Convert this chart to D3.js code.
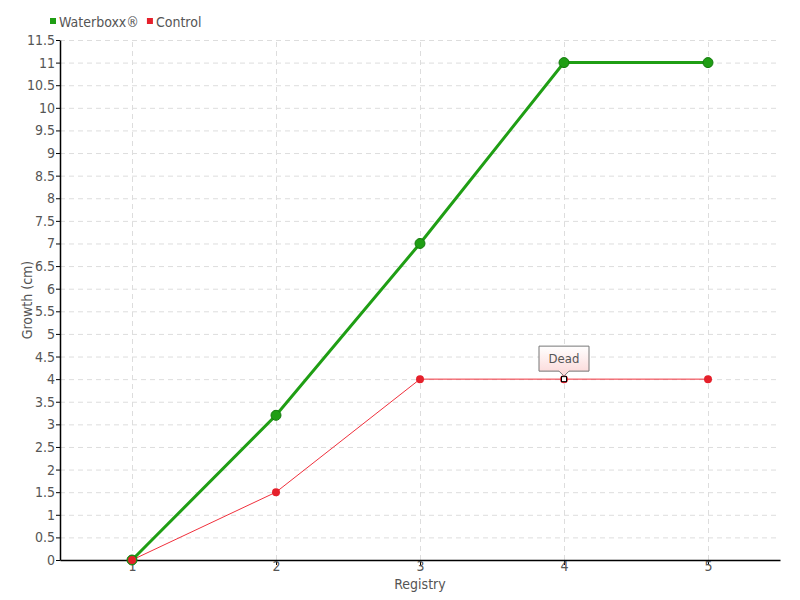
<!DOCTYPE html>
<html>
<head>
<meta charset="utf-8">
<script src="https://cdn.jsdelivr.net/npm/d3@7"></script>
<style>
  body { margin: 0; background: #fff; }
  text { font-family: "DejaVu Sans Condensed", "Liberation Sans Narrow", sans-serif; fill: #555; }
  .grid line { stroke: #ddd; stroke-dasharray: 5,4; }
  .grid path { display: none; }
  .axis path, .axis line { stroke: #000; }
</style>
</head>
<body>
<svg id="chart" width="800" height="600"></svg>
<script>
const registry = [1, 2, 3, 4, 5];
const waterboxx = [0, 3.2, 7, 11, 11];
const control = [0, 1.5, 4, 4, 4];
const yTicks = d3.range(0, 11.51, 0.5);
const deadIndex = 3;

const margin = { top: 40, right: 20, bottom: 40, left: 60 };
const width = 800 - margin.left - margin.right;
const height = 600 - margin.top - margin.bottom;

const svg = d3.select("#chart");
const g = svg.append("g").attr("transform", `translate(${margin.left},${margin.top})`);

const x = d3.scaleLinear().domain([0.5, 5.5]).range([0, width]);
const y = d3.scaleLinear().domain([0, 11.5]).range([height, 0]);

// grid
g.append("g").attr("class", "grid")
  .call(d3.axisLeft(y).tickValues(yTicks).tickSize(-width).tickFormat(""));
g.append("g").attr("class", "grid")
  .attr("transform", `translate(0,${height})`)
  .call(d3.axisBottom(x).tickValues(registry).tickSize(-height).tickFormat(""));

// axes
const yAxis = g.append("g").attr("class", "axis")
  .call(d3.axisLeft(y).tickValues(yTicks).tickSize(4).tickSizeOuter(0)
    .tickFormat(d => d3.format("")(d)));
yAxis.selectAll("text").style("font-size", "14px").attr("x", -5);
yAxis.select("path").attr("stroke-width", 1.5);

const xAxis = g.append("g").attr("class", "axis")
  .attr("transform", `translate(0,${height})`)
  .call(d3.axisBottom(x).tickValues(registry).tickSize(5).tickSizeOuter(0).tickFormat(d3.format("d")));
xAxis.selectAll("line").attr("stroke", "#555");
xAxis.selectAll("text").style("font-size", "14px").attr("y", 1).attr("dy", "0.71em");
xAxis.select("path").attr("stroke-width", 1.5);

// labels
svg.append("text").attr("x", margin.left + x(3)).attr("y", 589)
  .attr("text-anchor", "middle").style("font-size", "14px").text("Registry");
svg.append("text").attr("transform", `translate(32,${margin.top + height / 2}) rotate(-90)`)
  .attr("text-anchor", "middle").style("font-size", "14px").text("Growth (cm)");

const line = d3.line().x((d, i) => x(registry[i])).y(d => y(d));

// control
g.append("path").datum(control).attr("d", line)
  .attr("fill", "none").attr("stroke", "#f0303c").attr("stroke-width", 1);
control.forEach((v, i) => {
  if (i === deadIndex) return;
  g.append("circle")
    .attr("cx", x(registry[i])).attr("cy", y(v)).attr("r", 4).attr("fill", "#e5202b");
});

// waterboxx
g.append("path").datum(waterboxx).attr("d", line)
  .attr("fill", "none").attr("stroke", "#1f9e14").attr("stroke-width", 3);
waterboxx.forEach((v, i) => {
  g.append("circle").attr("cx", x(registry[i])).attr("cy", y(v)).attr("r", 5)
    .attr("fill", "#1f9e14").attr("stroke", "#157a0e").attr("stroke-width", 1);
});
// first control point drawn on top
g.append("circle").attr("cx", x(registry[0])).attr("cy", y(control[0])).attr("r", 4).attr("fill", "#e5202b");

// dead marker
const dx = x(registry[deadIndex]), dy = y(control[deadIndex]);
g.append("circle").attr("cx", dx).attr("cy", dy).attr("r", 4).attr("fill", "#e5202b");
g.append("rect").attr("x", dx - 2.5).attr("y", dy - 2.5).attr("width", 5).attr("height", 5)
  .attr("fill", "#fff").attr("stroke", "#000").attr("stroke-width", 1);

// tooltip
const defs = svg.append("defs");
const grad = defs.append("linearGradient").attr("id", "tipGrad").attr("x1", 0).attr("y1", 0).attr("x2", 0).attr("y2", 1);
grad.append("stop").attr("offset", "0%").attr("stop-color", "#fff");
grad.append("stop").attr("offset", "100%").attr("stop-color", "#fbd6d6");
const tw = 50, th = 25, tx = dx - tw / 2, ty = dy - 33;
g.append("path")
  .attr("d", `M${tx},${ty} h${tw} v${th} h${-(tw / 2 - 5)} l-5,5 l-5,-5 h${-(tw / 2 - 5)} Z`)
  .attr("fill", "url(#tipGrad)").attr("stroke", "#777").attr("stroke-width", 1);
g.append("text").attr("x", dx).attr("y", ty + 17).attr("text-anchor", "middle")
  .style("font-size", "13px").text("Dead");

// legend
const legend = [["Waterboxx®", "#1f9e14"], ["Control", "#e5202b"]];
let lx = 50;
legend.forEach(([name, color]) => {
  svg.append("rect").attr("x", lx).attr("y", 18).attr("width", 6).attr("height", 6).attr("fill", color);
  const t = svg.append("text").attr("x", lx + 9).attr("y", 27).style("font-size", "14px").text(name);
  lx += 9 + t.node().getComputedTextLength() + 8;
});
</script>
</body>
</html>
